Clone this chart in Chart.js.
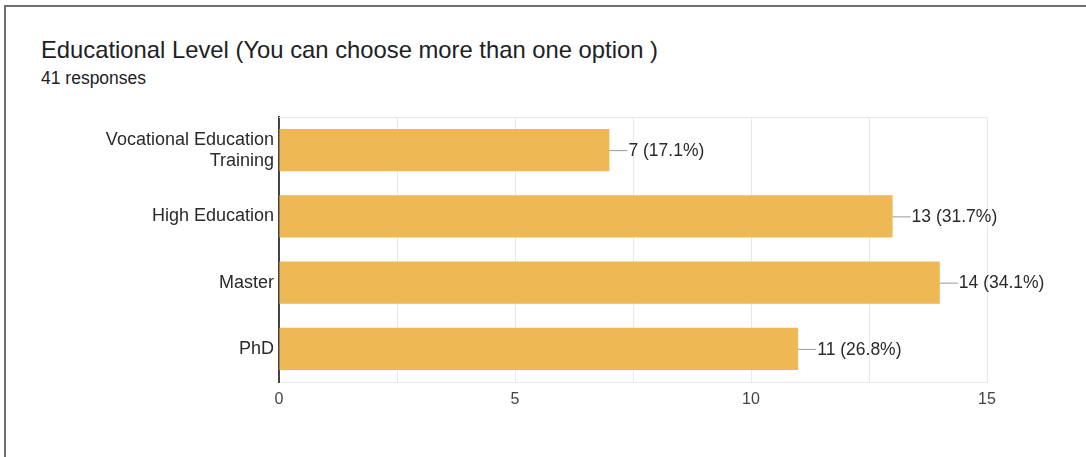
<!DOCTYPE html>
<html>
<head>
<meta charset="utf-8">
<script src="https://cdn.jsdelivr.net/npm/chart.js@4"></script>
<style>
  html, body { margin: 0; padding: 0; background: #fff; }
  #frame {
    position: absolute; left: 4px; top: 5px; width: 1090px; height: 460px;
    border-top: 2px solid #707070; border-left: 2px solid #707070;
    box-sizing: border-box;
  }
  #title {
    position: absolute; left: 41px; top: 38px;
    font: 23.8px/23px "Liberation Sans", Arial, sans-serif; color: #202124;
    white-space: nowrap;
  }
  #sub {
    position: absolute; left: 41px; top: 70px;
    font: 17.5px/17px "Liberation Sans", Arial, sans-serif; color: #202124;
  }
  #chart { position: absolute; left: 0; top: 0; width: 1086px; height: 457px; }
</style>
</head>
<body>
<div id="frame"></div>
<div id="title">Educational Level (You can choose more than one option )</div>
<div id="sub">41 responses</div>
<div id="chart"><canvas id="myChart" width="1086" height="457"></canvas></div>
<script>
const categories = [['Vocational Education', 'Training'], 'High Education', 'Master', 'PhD'];
const counts = [7, 13, 14, 11];
const totalResponses = 41;
const xTicks = [0, 5, 10, 15];

// "7 (17.1%)" style labels next to each bar
const barLabels = counts.map(v => v + ' (' + (v / totalResponses * 100).toFixed(1) + '%)');

const fontFamily = '"Liberation Sans", Arial, sans-serif';

const valueLabels = {
    id: 'valueLabels',
    afterDatasetsDraw(chart) {
        const ctx = chart.ctx;
        const meta = chart.getDatasetMeta(0);
        ctx.save();
        meta.data.forEach((bar, i) => {
            ctx.strokeStyle = '#9a9a9a';
            ctx.lineWidth = 1;
            ctx.beginPath();
            ctx.moveTo(bar.x, bar.y + 0.5);
            ctx.lineTo(bar.x + 18, bar.y + 0.5);
            ctx.stroke();
            ctx.fillStyle = '#2a2a2a';
            ctx.font = '17.5px ' + fontFamily;
            ctx.textAlign = 'left';
            ctx.textBaseline = 'middle';
            ctx.fillText(barLabels[i], bar.x + 19, bar.y + 1);
        });
        ctx.restore();
    }
};

const topLine = {
    id: 'topLine',
    beforeDatasetsDraw(chart) {
        const a = chart.chartArea;
        const ctx = chart.ctx;
        ctx.save();
        ctx.strokeStyle = '#e6e6e6';
        ctx.lineWidth = 1;
        ctx.beginPath();
        ctx.moveTo(a.left, a.top + 0.5);
        ctx.lineTo(a.right, a.top + 0.5);
        ctx.stroke();
        ctx.restore();
    }
};

new Chart('myChart', {
    type: 'bar',
    data: {
        labels: categories,
        datasets: [{
            data: counts,
            backgroundColor: '#eeb955',
            barPercentage: 0.64,
            categoryPercentage: 1
        }]
    },
    options: {
        indexAxis: 'y',
        responsive: false,
        animation: false,
        layout: { padding: { left: 0, right: 99, top: 117, bottom: 0 } },
        scales: {
            x: {
                min: 0,
                max: 15,
                afterFit(scale) { scale.height = 75; },
                afterBuildTicks(scale) {
                    scale.ticks = [0, 2.5, 5, 7.5, 10, 12.5, 15].map(v => ({ value: v }));
                },
                grid: {
                    drawTicks: false,
                    color: c => (c.tick && c.tick.value === 0) ? 'rgba(0,0,0,0)' : '#e8e8e8'
                },
                border: { color: '#e8e8e8' },
                ticks: {
                    padding: 8,
                    color: '#444444',
                    font: { family: fontFamily, size: 16 },
                    callback: v => xTicks.includes(v) ? String(v) : ''
                }
            },
            y: {
                afterFit(scale) { scale.width = 279; },
                grid: { display: false, drawTicks: false, tickLength: 0 },
                border: { color: '#444444', width: 2 },
                ticks: {
                    padding: 5,
                    color: '#2a2a2a',
                    font: { family: fontFamily, size: 18, lineHeight: 1.17 }
                }
            }
        },
        plugins: {
            legend: { display: false },
            tooltip: { enabled: false }
        }
    },
    plugins: [topLine, valueLabels]
});
</script>
</body>
</html>
